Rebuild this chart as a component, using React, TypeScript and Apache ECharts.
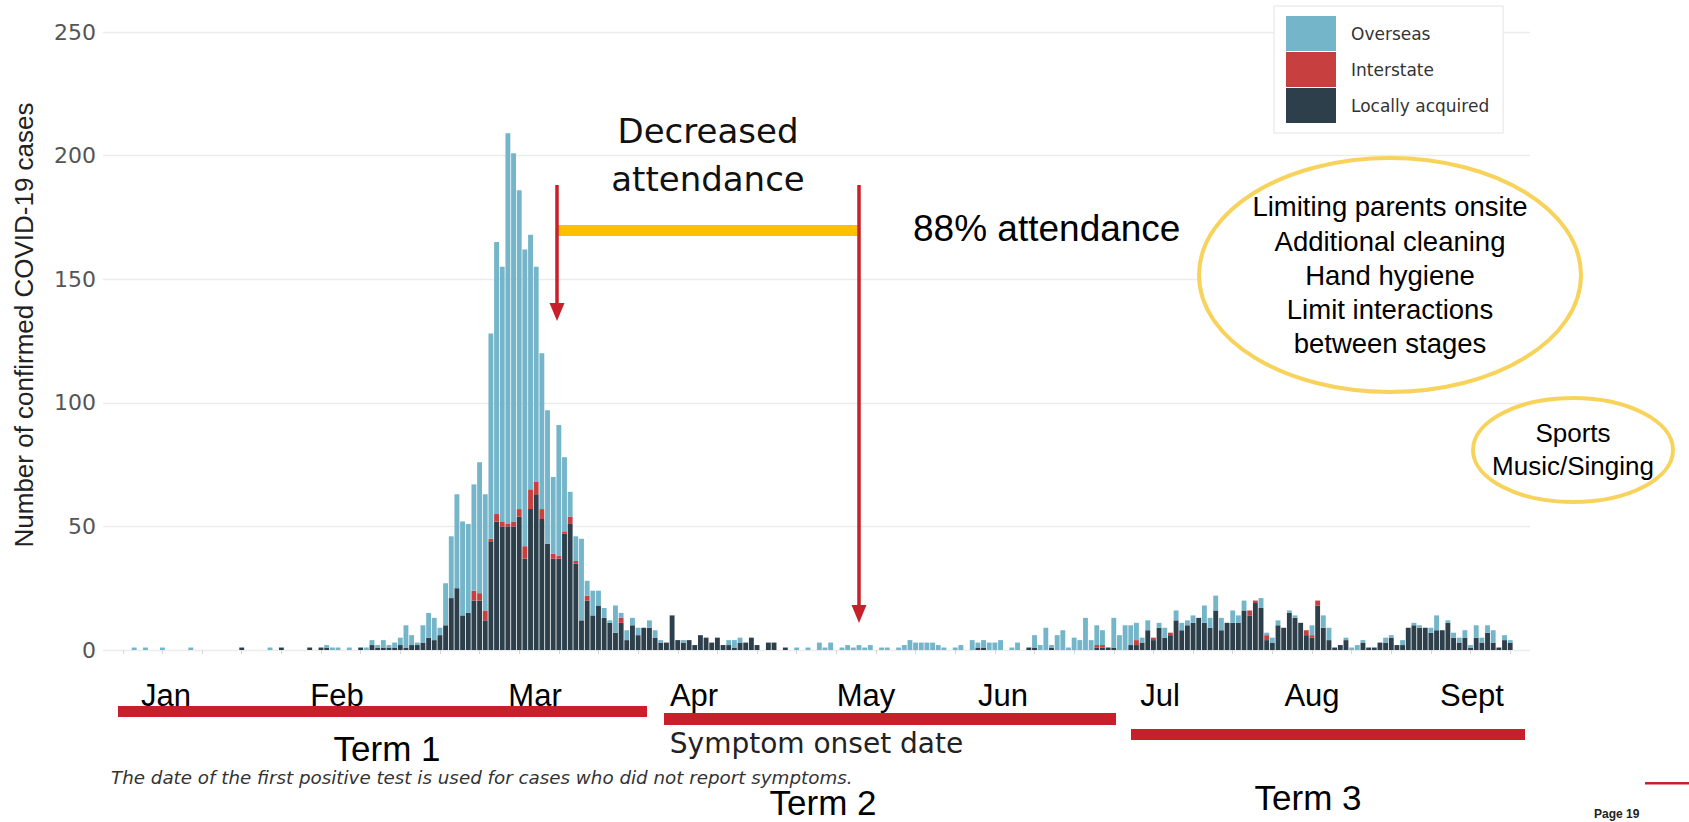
import React, { useEffect, useRef } from "react";
import * as echarts from "echarts";

// ---------- DATA ----------
const START_DATE = [2020, 0, 8];
const N_DAYS = 252;

const localCases = [
  0, 0, 0, 0, 0, 0, 0, 0, 0, 0,
  0, 0, 0, 0, 0, 0, 0, 0, 0, 0,
  0, 0, 0, 0, 1, 0, 0, 0, 0, 0,
  0, 1, 0, 0, 0, 0, 1, 0, 1, 1,
  0, 0, 0, 0, 0, 1, 0, 2, 1, 1,
  1, 1, 2, 1, 2, 2, 3, 5, 4, 6,
  10, 21, 25, 14, 15, 20, 20, 12, 44, 52,
  50, 50, 50, 54, 37, 57, 63, 53, 43, 37,
  37, 47, 51, 35, 12, 20, 14, 18, 13, 11,
  7, 11, 4, 10, 6, 9, 9, 5, 3, 3,
  14, 4, 3, 4, 2, 6, 5, 3, 5, 2,
  2, 1, 3, 3, 5, 2, 0, 3, 3, 0,
  1, 0, 0, 0, 0, 0, 0, 0, 0, 0,
  0, 0, 0, 0, 0, 0, 0, 0, 0, 0,
  0, 0, 0, 0, 0, 0, 0, 0, 0, 0,
  0, 0, 0, 0, 1, 1, 0, 0, 0, 0,
  0, 0, 0, 1, 1, 0, 0, 1, 0, 0,
  0, 0, 0, 0, 0, 1, 1, 1, 1, 0,
  0, 2, 2, 3, 8, 4, 9, 5, 6, 12,
  8, 10, 11, 13, 11, 9, 16, 8, 11, 11,
  11, 16, 14, 19, 17, 4, 3, 10, 9, 15,
  13, 11, 6, 5, 18, 9, 4, 1, 2, 4,
  0, 0, 3, 1, 1, 3, 3, 5, 2, 2,
  9, 10, 9, 9, 7, 8, 8, 11, 5, 3,
  5, 1, 5, 3, 7, 3, 1, 4, 3, 0,
  0, 0,
];

const interstateCases = [
  0, 0, 0, 0, 0, 0, 0, 0, 0, 0,
  0, 0, 0, 0, 0, 0, 0, 0, 0, 0,
  0, 0, 0, 0, 0, 0, 0, 0, 0, 0,
  0, 0, 0, 0, 0, 0, 0, 0, 0, 0,
  0, 0, 0, 0, 0, 0, 0, 0, 0, 0,
  0, 0, 0, 0, 0, 0, 0, 0, 0, 0,
  0, 0, 0, 0, 0, 4, 3, 4, 1, 3,
  2, 1, 2, 3, 5, 8, 5, 4, 0, 2,
  1, 1, 3, 1, 0, 2, 0, 0, 0, 0,
  0, 2, 0, 0, 0, 0, 0, 0, 0, 0,
  0, 0, 0, 0, 0, 0, 0, 0, 0, 0,
  0, 0, 0, 0, 0, 0, 0, 0, 0, 0,
  0, 0, 0, 0, 0, 0, 0, 0, 0, 0,
  0, 0, 0, 0, 0, 0, 0, 0, 0, 0,
  0, 0, 0, 0, 0, 0, 0, 0, 0, 0,
  0, 0, 0, 0, 0, 0, 0, 0, 0, 0,
  0, 0, 0, 0, 0, 0, 0, 0, 0, 0,
  0, 0, 0, 0, 0, 1, 1, 0, 0, 0,
  0, 0, 2, 0, 0, 1, 0, 0, 1, 0,
  0, 0, 0, 0, 0, 0, 0, 0, 0, 0,
  0, 0, 2, 1, 0, 2, 0, 0, 0, 0,
  0, 0, 2, 1, 2, 0, 0, 0, 0, 0,
  0, 0, 0, 0, 0, 0, 0, 0, 0, 0,
  0, 0, 0, 0, 0, 0, 0, 0, 0, 0,
  0, 0, 0, 0, 0, 0, 0, 0, 0, 0,
  0, 0,
];

const overseasCases = [
  0, 0, 0, 0, 0, 1, 0, 1, 0, 0,
  1, 0, 0, 0, 0, 1, 0, 0, 0, 0,
  0, 0, 0, 0, 0, 0, 0, 0, 0, 1,
  0, 0, 0, 0, 0, 0, 0, 0, 0, 1,
  1, 1, 0, 1, 0, 0, 1, 2, 1, 3,
  1, 2, 3, 9, 4, 1, 7, 10, 9, 3,
  17, 25, 38, 38, 36, 43, 53, 47, 83, 110,
  103, 158, 149, 129, 120, 103, 87, 63, 54, 31,
  53, 30, 10, 10, 33, 6, 10, 6, 4, 1,
  11, 2, 4, 3, 3, 0, 3, 3, 1, 0,
  0, 0, 1, 0, 0, 0, 0, 0, 0, 0,
  2, 3, 2, 0, 0, 0, 0, 0, 0, 0,
  0, 0, 1, 0, 1, 0, 3, 1, 3, 0,
  1, 2, 1, 2, 1, 2, 0, 1, 1, 0,
  1, 2, 4, 3, 3, 3, 3, 2, 1, 0,
  1, 2, 0, 4, 2, 3, 3, 3, 4, 0,
  1, 3, 0, 0, 5, 2, 9, 1, 6, 8,
  1, 5, 4, 13, 4, 8, 6, 0, 12, 6,
  10, 8, 7, 2, 4, 0, 2, 4, 0, 4,
  3, 2, 3, 0, 7, 4, 6, 5, 0, 5,
  3, 4, 0, 0, 4, 1, 2, 2, 0, 1,
  1, 0, 0, 4, 0, 5, 5, 0, 0, 1,
  1, 2, 1, 0, 0, 0, 2, 1, 0, 2,
  0, 1, 1, 0, 2, 6, 0, 1, 2, 2,
  3, 1, 5, 2, 3, 5, 0, 2, 1, 0,
  0, 0,
];

const seriesNames = ["Overseas", "Interstate", "Locally acquired"];
const yTicks = [0, 50, 100, 150, 200, 250];
const monthLabels = ["Jan", "Feb", "Mar", "Apr", "May", "Jun", "Jul", "Aug", "Sept"];
const termLabels = ["Term 1", "Term 2", "Term 3"];
const strategyLines = [
  "Limiting parents onsite",
  "Additional cleaning",
  "Hand hygiene",
  "Limit interactions",
  "between stages",
];
const riskLines = ["Sports", "Music/Singing"];
const decreasedLines = ["Decreased", "attendance"];
const attendanceText = "88% attendance";
const yTitle = "Number of confirmed COVID-19 cases";
const xTitle = "Symptom onset date";
const captionText = "The date of the first positive test is used for cases who did not report symptoms.";
const pageText = "Page 19";

// ---------- LAYOUT / STYLE ----------
const W = 1689;
const H = 822;
const COL_OVERSEAS = "#74b5ca";
const COL_INTERSTATE = "#c7403f";
const COL_LOCAL = "#2c3f4b";
const RED = "#c8202a";
const YELLOW = "#ffc000";
const ELLIPSE = "#f8d35c";
const ARIAL = "'Liberation Sans', Arial, sans-serif";
const DEJAVU = "'DejaVu Sans', sans-serif";

const monthX = [166, 337, 535, 694, 866, 1003, 1160, 1312, 1472];
const monthY = 695;
const termBars = [
  { x1: 118, x2: 647, y: 706, h: 11 },
  { x1: 664, x2: 1116, y: 713, h: 12 },
  { x1: 1131, x2: 1525, y: 729, h: 11 },
];
const termPos = [
  [387, 748],
  [823, 802],
  [1308, 797],
];
const strategyY = [206, 241, 275, 309, 343];
const riskY = [433, 466];

function dayLabels(): string[] {
  const out: string[] = [];
  for (let i = 0; i < N_DAYS; i++) {
    const d = new Date(Date.UTC(START_DATE[0], START_DATE[1], START_DATE[2] + i));
    out.push(d.toISOString().slice(0, 10));
  }
  return out;
}

function arrow(x: number, y1: number, y2: number): any[] {
  return [
    {
      type: "line",
      shape: { x1: x, y1: y1, x2: x, y2: y2 - 16 },
      style: { stroke: RED, lineWidth: 3.5 },
      z: 100,
    },
    {
      type: "polygon",
      shape: { points: [[x - 7.5, y2 - 18], [x + 7.5, y2 - 18], [x, y2]] },
      style: { fill: RED },
      z: 100,
    },
  ];
}

function buildOption(): any {
  const cats = dayLabels();
  const graphics: any[] = [];

  monthLabels.forEach((m, i) => {
    graphics.push({
      type: "text",
      x: monthX[i],
      y: monthY,
      style: { text: m, fontFamily: ARIAL, fontSize: 31, fill: "#000", align: "center", verticalAlign: "middle" },
      z: 100,
    });
  });
  termBars.forEach((b) => {
    graphics.push({
      type: "rect",
      shape: { x: b.x1, y: b.y, width: b.x2 - b.x1, height: b.h },
      style: { fill: RED },
      z: 100,
    });
  });
  termLabels.forEach((t, i) => {
    graphics.push({
      type: "text",
      x: termPos[i][0],
      y: termPos[i][1],
      style: {
        text: t,
        fontFamily: ARIAL,
        fontSize: 35,
        lineHeight: 32,
        fill: "#000",
        align: "center",
        verticalAlign: "middle",
      },
      z: 100,
    });
  });
  graphics.push({
    type: "text",
    x: 111,
    y: 777,
    style: {
      text: captionText,
      fontFamily: DEJAVU,
      fontStyle: "italic",
      fontSize: 18.3,
      lineHeight: 18,
      fill: "#333",
      align: "left",
      verticalAlign: "middle",
    },
    z: 100,
  });
  decreasedLines.forEach((t, i) => {
    graphics.push({
      type: "text",
      x: 708,
      y: [131, 179][i],
      style: { text: t, fontFamily: DEJAVU, fontSize: 34, fill: "#111", align: "center", verticalAlign: "middle" },
      z: 100,
    });
  });
  graphics.push({
    type: "rect",
    shape: { x: 557, y: 225, width: 302, height: 11 },
    style: { fill: YELLOW },
    z: 99,
  });
  graphics.push(...arrow(557, 185, 321));
  graphics.push(...arrow(859, 185, 623));
  graphics.push({
    type: "text",
    x: 913,
    y: 228,
    style: { text: attendanceText, fontFamily: ARIAL, fontSize: 37, fill: "#000", align: "left", verticalAlign: "middle" },
    z: 100,
  });
  graphics.push({
    type: "ellipse",
    shape: { cx: 1390, cy: 275, rx: 191, ry: 117 },
    style: { fill: "#fff", stroke: ELLIPSE, lineWidth: 4 },
    z: 98,
  });
  strategyLines.forEach((t, i) => {
    graphics.push({
      type: "text",
      x: 1390,
      y: strategyY[i],
      style: { text: t, fontFamily: ARIAL, fontSize: 27.5, fill: "#000", align: "center", verticalAlign: "middle" },
      z: 100,
    });
  });
  graphics.push({
    type: "ellipse",
    shape: { cx: 1573, cy: 450, rx: 100, ry: 52 },
    style: { fill: "#fff", stroke: ELLIPSE, lineWidth: 4 },
    z: 98,
  });
  riskLines.forEach((t, i) => {
    graphics.push({
      type: "text",
      x: 1573,
      y: riskY[i],
      style: { text: t, fontFamily: ARIAL, fontSize: 26, fill: "#000", align: "center", verticalAlign: "middle" },
      z: 100,
    });
  });
  graphics.push({
    type: "rect",
    shape: { x: 1645, y: 782, width: 44, height: 2.5 },
    style: { fill: RED },
    z: 100,
  });
  graphics.push({
    type: "text",
    x: 1594,
    y: 820,
    style: { text: pageText, fontFamily: ARIAL, fontWeight: "bold", fontSize: 12, fill: "#222", align: "left", verticalAlign: "bottom" },
    z: 100,
  });

  return {
    animation: false,
    backgroundColor: "#fff",
    grid: { left: 103, right: W - 1530, top: 32, bottom: H - 650 },
    legend: {
      data: seriesNames,
      orient: "vertical",
      left: 1274,
      top: 6,
      icon: "rect",
      itemWidth: 50,
      itemHeight: 35,
      itemGap: 1,
      padding: [10, 14, 10, 12],
      backgroundColor: "#fff",
      borderColor: "#e4e4e4",
      borderWidth: 1,
      textStyle: { fontFamily: DEJAVU, fontSize: 17, color: "#333", padding: [0, 0, 0, 10] },
      selectedMode: false,
      z: 50,
    },
    xAxis: {
      type: "category",
      data: cats,
      boundaryGap: true,
      axisLine: { show: false },
      axisLabel: { show: false },
      axisTick: {
        show: true,
        alignWithLabel: true,
        interval: (i: number) => i % 7 === 3,
        length: 4,
        lineStyle: { color: "#d6d6d6" },
      },
      splitLine: { show: false },
      name: xTitle,
      nameLocation: "middle",
      nameGap: 79,
      nameTextStyle: { fontFamily: DEJAVU, fontSize: 28, color: "#222" },
    },
    yAxis: {
      type: "value",
      min: yTicks[0],
      max: yTicks[yTicks.length - 1],
      interval: yTicks[1] - yTicks[0],
      axisLine: { show: false },
      axisTick: { show: false },
      axisLabel: { fontFamily: DEJAVU, fontSize: 22, color: "#555", margin: 7 },
      splitLine: { lineStyle: { color: "#ececec", width: 1.3 } },
      name: yTitle,
      nameLocation: "middle",
      nameRotate: 90,
      nameGap: 66,
      nameTextStyle: { fontFamily: ARIAL, fontSize: 26, color: "#222", padding: [0, 0, 0, 32] },
    },
    series: [
      {
        name: "Locally acquired",
        type: "bar",
        stack: "cases",
        data: localCases,
        itemStyle: { color: COL_LOCAL },
        barCategoryGap: "14%",
      },
      {
        name: "Interstate",
        type: "bar",
        stack: "cases",
        data: interstateCases,
        itemStyle: { color: COL_INTERSTATE },
        barCategoryGap: "14%",
      },
      {
        name: "Overseas",
        type: "bar",
        stack: "cases",
        data: overseasCases,
        itemStyle: { color: COL_OVERSEAS },
        barCategoryGap: "14%",
      },
    ],
    graphic: graphics,
  };
}

export default function App() {
  const ref = useRef<HTMLDivElement>(null);
  useEffect(() => {
    document.body.style.margin = "0";
    const el = ref.current;
    if (!el) return;
    const chart = echarts.init(el, null, { renderer: "svg" });
    chart.setOption(buildOption());
    return () => {
      chart.dispose();
    };
  }, []);
  return <div ref={ref} style={{ width: W, height: H, background: "#fff", overflow: "hidden" }} />;
}
